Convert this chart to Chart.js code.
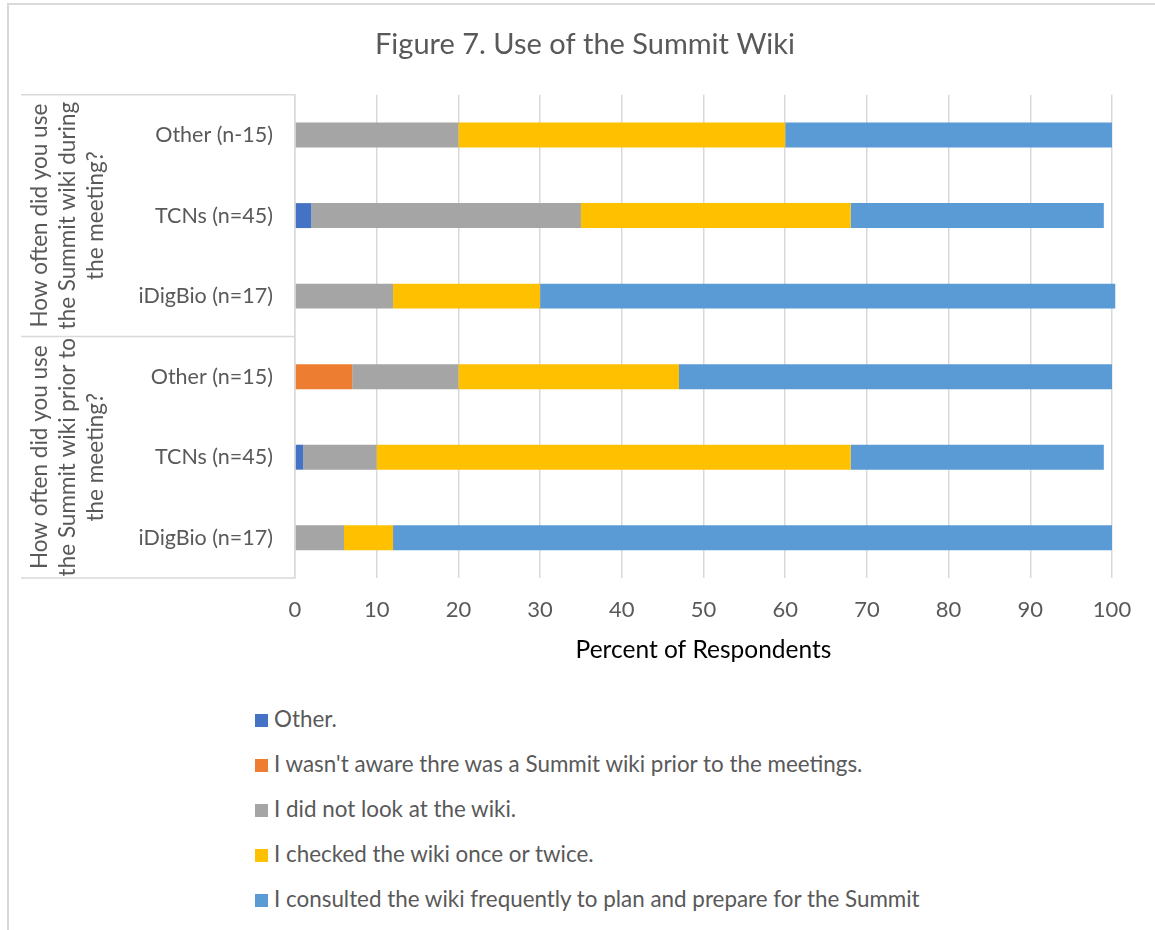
<!DOCTYPE html>
<html lang="en">
<head>
  <meta charset="UTF-8">
  <title>Figure 7. Use of the Summit Wiki</title>
  <script src="https://cdn.jsdelivr.net/npm/chart.js"></script>
  <style>
    body { margin: 0; background: #fff; overflow: hidden; }
    #frame { position: absolute; left: 7px; top: 3px; width: 1200px; height: 1000px; border: 2px solid #d9d9d9; }
    #wrap { position: absolute; left: 0; top: 0; width: 1155px; height: 682px; }
    #legend { position: absolute; left: 255px; top: 705px; font-family: Lato, sans-serif; font-size: 22.4px; color: #595959; }
    .item { height: 45px; line-height: 28px; white-space: nowrap; }
    .box { display: inline-block; width: 13px; height: 13px; margin-right: 6px; vertical-align: 0px; }
  </style>
</head>
<body>
  <div id="frame"></div>
  <div id="wrap"><canvas id="myChart"></canvas></div>
  <div id="legend"></div>
  <script>
    // categories, top to bottom
    const categories = ['Other (n-15)', 'TCNs (n=45)', 'iDigBio (n=17)', 'Other (n=15)', 'TCNs (n=45)', 'iDigBio (n=17)'];
    const groupLabels = [
      ['How often did you use', 'the Summit wiki during', 'the meeting?'],
      ['How often did you use', 'the Summit wiki prior to', 'the meeting?']
    ];
    const groupSizes = [3, 3];

    const seriesNames = [
      'Other.',
      "I wasn't aware thre was a Summit wiki prior to the meetings.",
      'I did not look at the wiki.',
      'I checked the wiki once or twice.',
      'I consulted the wiki frequently to plan and prepare for the Summit'
    ];
    const otherVals = [0, 2, 0, 0, 1, 0];
    const unawareVals = [0, 0, 0, 7, 0, 0];
    const notLookVals = [20, 33, 12, 13, 9, 6];
    const checkedVals = [40, 33, 18, 27, 58, 6];
    const consultedVals = [40, 31, 70.4, 53, 31, 88];
    const colors = ['#4472C4', '#ED7D31', '#A5A5A5', '#FFC000', '#5B9BD5'];
    const xTicks = [0, 10, 20, 30, 40, 50, 60, 70, 80, 90, 100];

    const allVals = [otherVals, unawareVals, notLookVals, checkedVals, consultedVals];
    const datasets = allVals.map((vals, i) => ({
      label: seriesNames[i],
      data: vals,
      backgroundColor: colors[i],
      borderWidth: 0,
      barPercentage: 0.31,
      categoryPercentage: 1,
      clip: false
    }));

    const FONT = 'Lato, sans-serif';

    // draws the outer group labels and the box lines of the category axis
    const groupPlugin = {
      id: 'groups',
      afterDraw(chart) {
        const ctx = chart.ctx;
        const y = chart.scales.y;
        const area = chart.chartArea;
        const left = 21;
        ctx.save();
        ctx.strokeStyle = '#d9d9d9';
        ctx.lineWidth = 1.5;
        let start = 0;
        let top = area.top;
        const lines = [area.top];
        groupSizes.forEach((n, g) => {
          const end = start + n - 1;
          let bottom;
          if (end + 1 < categories.length) {
            bottom = (y.getPixelForValue(end) + y.getPixelForValue(end + 1)) / 2;
          } else {
            bottom = area.bottom;
          }
          lines.push(bottom);
          // rotated text
          const cy = (top + bottom) / 2;
          ctx.save();
          ctx.translate(68, cy);
          ctx.rotate(-Math.PI / 2);
          ctx.fillStyle = '#595959';
          ctx.font = '22.5px ' + FONT;
          ctx.textAlign = 'center';
          ctx.textBaseline = 'middle';
          const lab = groupLabels[g];
          lab.forEach((t, k) => {
            ctx.fillText(t, 0, (k - (lab.length - 1) / 2) * 28);
          });
          ctx.restore();
          start += n;
          top = bottom;
        });
        lines.forEach(ly => {
          ctx.beginPath();
          ctx.moveTo(left, ly);
          ctx.lineTo(area.left, ly);
          ctx.stroke();
        });
        ctx.restore();
      }
    };

    const ctx = document.getElementById('myChart');
    const chart = new Chart(ctx, {
      type: 'bar',
      data: {
        labels: categories,
        datasets: datasets
      },
      plugins: [groupPlugin],
      options: {
        indexAxis: 'y',
        responsive: true,
        maintainAspectRatio: false,
        animation: false,
        layout: { padding: { left: 58, right: 43, top: 0, bottom: 13 } },
        plugins: {
          legend: { display: false },
          tooltip: { enabled: false },
          title: {
            display: true,
            text: 'Figure 7. Use of the Summit Wiki',
            color: '#595959',
            font: { family: FONT, size: 29, weight: 'normal' },
            padding: { top: 27, bottom: 33 }
          }
        },
        scales: {
          x: {
            stacked: true,
            min: 0,
            max: 100,
            afterBuildTicks: (scale) => { scale.ticks = xTicks.map(v => ({ value: v })); },
            afterFit: (scale) => { scale.height = 91; },
            grid: { color: '#d9d9d9', lineWidth: 1.5, drawTicks: false },
            border: { display: false },
            ticks: { color: '#595959', padding: 19, font: { family: FONT, size: 22 } },
            title: {
              display: true,
              text: 'Percent of Respondents',
              color: '#000',
              font: { family: FONT, size: 24.5 },
              padding: { top: 0, bottom: 4 }
            }
          },
          y: {
            stacked: true,
            afterFit: (scale) => { scale.width = 237; },
            grid: { display: false, drawTicks: false },
            border: { display: true, color: '#d9d9d9', width: 1.5 },
            ticks: { color: '#595959', padding: 22, font: { family: FONT, size: 21.5 } }
          }
        }
      }
    });

    // html legend from the datasets
    const legend = document.getElementById('legend');
    chart.data.datasets.forEach(ds => {
      const row = document.createElement('div');
      row.className = 'item';
      row.innerHTML = '<span class="box" style="background:' + ds.backgroundColor + '"></span>' + ds.label;
      legend.appendChild(row);
    });
  </script>
</body>
</html>
